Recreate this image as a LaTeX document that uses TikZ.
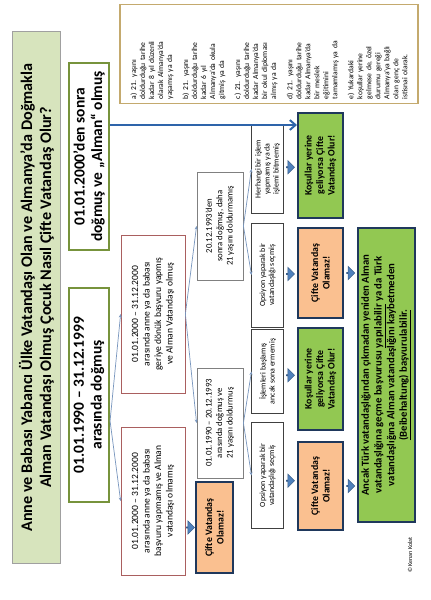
\documentclass[tikz,border=0pt]{standalone}
\usepackage{fontspec}
\setmainfont{Carlito}
\usetikzlibrary{positioning,calc,arrows.meta,shapes.arrows}

\definecolor{titlegreen}{RGB}{215,228,189}
\definecolor{titleline}{RGB}{160,160,160}
\definecolor{dateline}{RGB}{119,147,60}
\definecolor{redline}{RGB}{170,95,95}
\definecolor{grayline}{RGB}{128,128,128}
\definecolor{navyline}{RGB}{31,56,92}
\definecolor{okgreen}{RGB}{146,200,82}
\definecolor{noorange}{RGB}{250,192,144}
\definecolor{tanline}{RGB}{196,170,110}
\definecolor{branchblue}{RGB}{120,150,190}
\definecolor{longblue}{RGB}{46,100,170}
\definecolor{arrowblue}{RGB}{79,129,189}
\definecolor{arrowline}{RGB}{56,93,138}

\tikzset{
  titlebox/.style={draw=titleline, fill=titlegreen, line width=0.8pt, align=center,
    font=\bfseries\fontsize{11.5}{13.5}\selectfont, inner sep=0pt},
  datebox/.style={draw=dateline, fill=white, line width=1.5pt, align=center,
    font=\bfseries\fontsize{11}{12.5}\selectfont, inner sep=0pt},
  redbox/.style={draw=redline, fill=white, line width=0.5pt, align=center,
    font=\fontsize{6.8}{8.2}\selectfont, inner sep=0pt, minimum height=1.6cm},
  graybox/.style={draw=grayline, fill=white, line width=0.6pt, align=center,
    font=\fontsize{6.2}{7.4}\selectfont, inner sep=0pt, minimum height=1.15cm},
  optbox/.style={draw=black!75, fill=white, line width=0.6pt, align=center,
    font=\fontsize{5.6}{6.4}\selectfont, inner sep=0pt, minimum height=0.78cm},
  okbox/.style={draw=navyline, fill=okgreen, line width=1.3pt, align=center,
    font=\bfseries\fontsize{7}{8.2}\selectfont, inner sep=0pt, minimum height=1.13cm},
  nobox/.style={okbox, fill=noorange},
  listbox/.style={draw=tanline, fill=white, line width=0.8pt, align=left,
    font=\fontsize{5.4}{6.4}\selectfont, inner sep=3pt},
  branch/.style={draw=branchblue, line width=0.5pt, -{Stealth[length=2.5pt,width=2.2pt]}},
  longarrow/.style={draw=longblue, line width=1.4pt, -{Straight Barb[length=4pt,width=7pt]}},
  blockarrow/.style={single arrow, draw=arrowline, fill=arrowblue, line width=0.4pt,
    rotate=-90, minimum height=0.2cm, single arrow head extend=0.09cm,
    minimum width=0.33cm, inner sep=0pt}
}

\begin{document}
\begin{tikzpicture}[x=0.025cm,y=0.025cm]
\useasboundingbox[fill=white] (0,0) rectangle (430,600);
\begin{scope}[rotate=90,transform shape]
  % title
  \node[titlebox, minimum width=13.28cm, minimum height=1.18cm] (title) at (302.5,-36.5)
    {Anne ve Babası Yabancı Ülke Vatandaşı Olan ve Almanya’da Doğmakla\\
     Alman Vatandaşı Olmuş Çocuk Nasıl Çifte Vatandaş Olur?};

  % birth dates
  \node[datebox, minimum width=5.35cm, minimum height=1cm] (d1990) at (205,-89)
    {01.01.1990 – 31.12.1999\\ arasında doğmuş};
  \node[datebox, minimum width=4.68cm, minimum height=1cm] (d2000) at (443.5,-89)
    {01.01.2000’den sonra\\ doğmuş ve „Alman“ olmuş};

  % parents
  \node[redbox, minimum width=3.95cm] (padone) at (286,-153)
    {01.01.2000 – 31.12.2000\\ arasında anne ya da babası\\ geriye dönük başvuru yapmış\\ ve Alman Vatandaşı olmuş};
  \node[redbox, minimum width=3.7cm] (padnot) at (99,-153)
    {01.01.2000 – 31.12.2000\\ arasında anne ya da babası\\ başvuru yapmamış ve Alman\\ vatandaşı olmamış};
  \node[nobox, minimum width=2.28cm, minimum height=0.93cm] (no0) at (72.5,-214.5)
    {Çifte Vatandaş\\ Olamaz!};

  % age
  \node[graybox, minimum width=2.75cm] (b1990) at (177,-220)
    {01.01.1990 – 20.12.1993\\ arasında doğmuş ve\\ 21 yaşını doldurmuş};
  \node[graybox, minimum width=2.7cm] (b1993) at (374,-220)
    {20.12.1993’den\\ sonra doğmuş, daha\\ 21 yaşını doldurmamış};

  % options
  \node[optbox, minimum width=2.2cm] (none) at (431,-267.5)
    {Herhangi bir işlem\\ yapmamış ya da\\ işlemi bitmemiş};
  \node[optbox, minimum width=2.6cm] (optA) at (325,-267.5)
    {Opsiyon yaparak bir\\ vatandaşlığı seçmiş};
  \node[optbox, minimum width=2.08cm] (open) at (228.5,-267.5)
    {İşlemleri başlamış\\ ancak sona ermemiş};
  \node[optbox, minimum width=2.63cm] (optB) at (124.5,-267.5)
    {Opsiyon yaparak bir\\ vatandaşlığı seçmiş};

  % results
  \node[okbox, minimum width=2.63cm] (ok1) at (434.5,-320.5)
    {Koşullar yerine\\ geliyorsa Çifte\\ Vatandaş Olur!};
  \node[nobox, minimum width=2.25cm] (no1) at (327,-320.5)
    {Çifte Vatandaş\\ Olamaz!};
  \node[okbox, minimum width=2.55cm] (ok2) at (221,-320.5)
    {Koşullar yerine\\ geliyorsa Çifte\\ Vatandaş Olur!};
  \node[nobox, minimum width=2.2cm] (no2) at (114,-320.5)
    {Çifte Vatandaş\\ Olamaz!};

  \node[okbox, minimum width=7.35cm, minimum height=1.43cm,
    font=\bfseries\fontsize{7.6}{9}\selectfont] (keep) at (225,-386.5)
    {Ancak Türk vatandaşlığından çıkmadan yeniden Alman\\
     vatandaşlığına geçme başvurusu \underline{yapılabilir} ya da Türk\\
     vatandaşlığına Alman vatandaşlığını kaybetmeden\\
     \underline{(Beibehaltung) başvurulabilir.}};

  % conditions
  \node[listbox, minimum width=2.45cm, minimum height=7.45cm, text width=2.25cm] (cond) at (546,-269)
    {a) 21. yaşını\\ doldurduğu tarihe\\ kadar 8 yıl düzenli\\ olarak Almanya’da\\ yaşamış ya da\\[5pt]
     b) 21. yaşını\\ doldurduğu tarihe\\ kadar 6 yıl\\ Almanya’da okula\\ gitmiş ya da\\[5pt]
     c) 21. yaşını\\ doldurduğu tarihe\\ kadar Almanya’da\\ bir okul diploması\\ almış ya da\\[5pt]
     d) 21. yaşını\\ doldurduğu tarihe\\ kadar Almanya’da\\ bir meslek\\ eğitimini\\ tamamlamış ya da\\[5pt]
     e) Yukardaki\\ koşullar yerine\\ gelmese de, özel\\ durumu gereği\\ Almanya’ya bağlı\\ olan genç de\\ istisnai olarak.};

  \node[anchor=west, font=\fontsize{4.3}{5}\selectfont, inner sep=0pt] (copy) at (27,-410) {© Kenan Kolat};

  % tree
  \draw[branch] ($(d1990.south west)!0.38!(d1990.south east)$) -- (padone.north);
  \draw[branch] ($(d1990.south west)!0.38!(d1990.south east)$) -- (padnot.north);
  \draw[branch] (padone.south) -- (b1993.north);
  \draw[branch] (padone.south) -- (b1990.north);
  \draw[branch] (b1993.south) -- (none.north);
  \draw[branch] (b1993.south) -- (optA.north);
  \draw[branch] (b1990.south) -- (open.north);
  \draw[branch] (b1990.south) -- (optB.north);

  \coordinate (lineX) at (475,0);
  \draw[longarrow] (d2000.south -| lineX) -- (ok1.north -| lineX);

  \node[blockarrow] (arr0) at ($(no0.north)!0.5!(no0.north |- padnot.south)$) {};
  \node[blockarrow] (arr1) at ($(none.south)!0.5!(ok1.north)$) {};
  \node[blockarrow] (arr2) at ($(optA.south)!0.5!(no1.north)$) {};
  \node[blockarrow] (arr3) at ($(open.south)!0.5!(ok2.north)$) {};
  \node[blockarrow] (arr4) at ($(optB.south)!0.5!(no2.north)$) {};
  \node[blockarrow] (arr5) at ($(no1.south)!0.5!(no1.south |- keep.north)$) {};
  \node[blockarrow] (arr6) at ($(no2.south)!0.5!(no2.south |- keep.north)$) {};
\end{scope}
\end{tikzpicture}
\end{document}
